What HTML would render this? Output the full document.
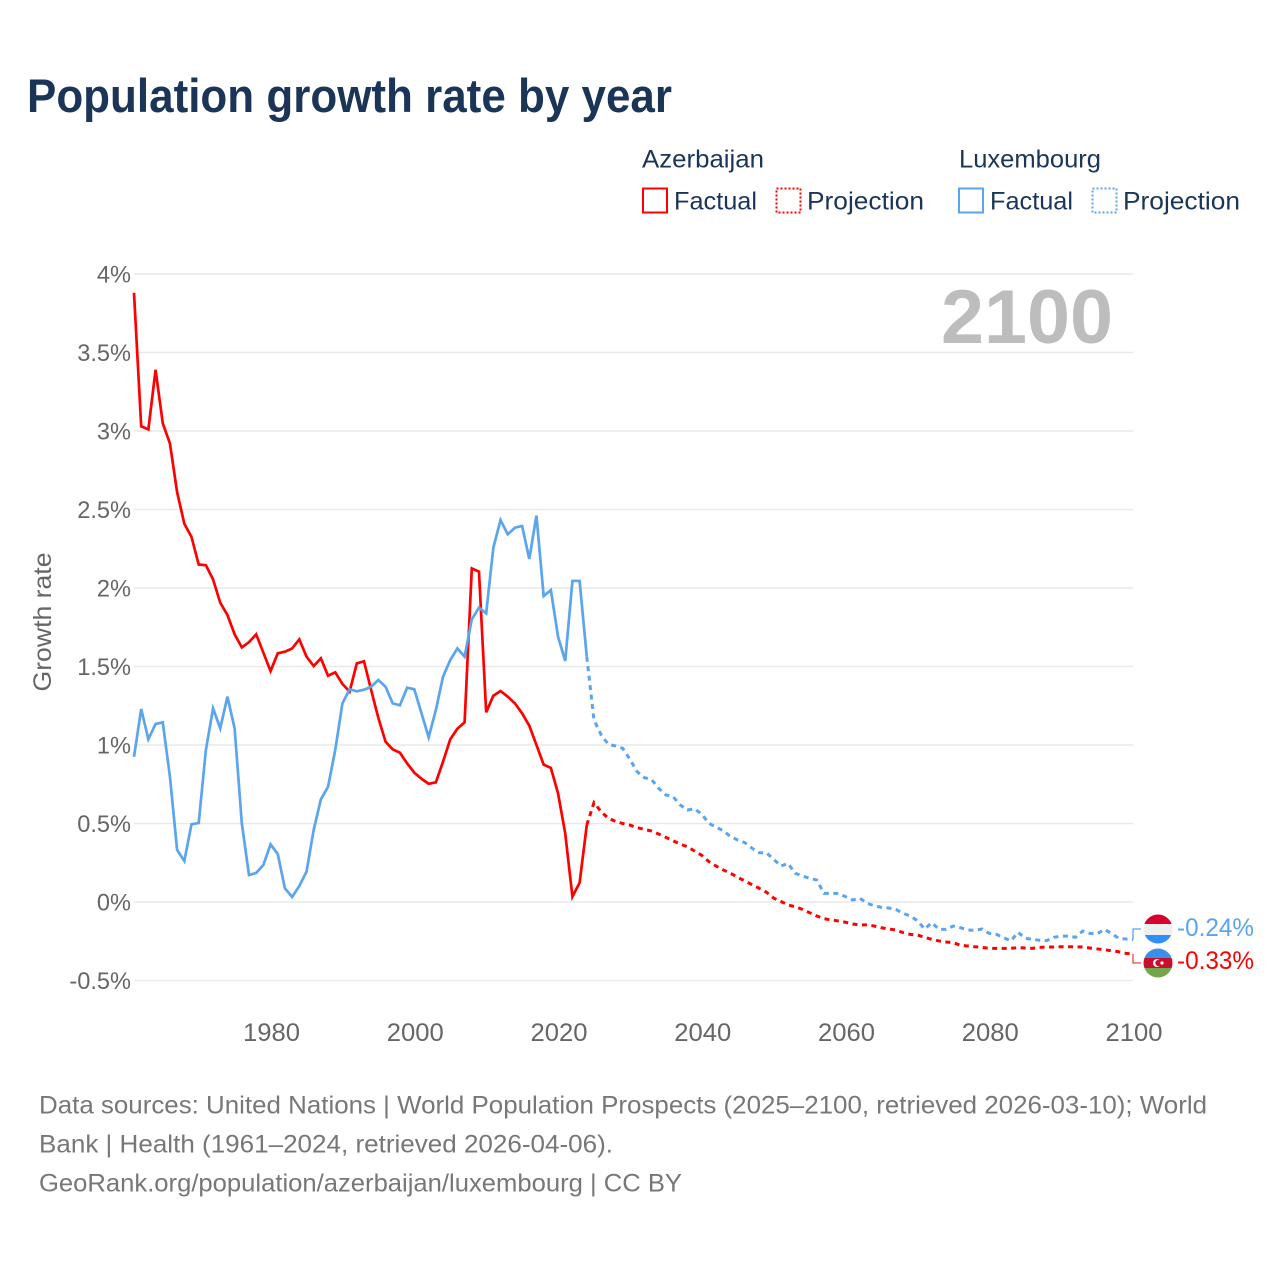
<!DOCTYPE html>
<html lang="en">
<head>
<meta charset="utf-8">
<title>Population growth rate by year</title>
<style>
html,body{margin:0;padding:0;background:#fff;}
svg{display:block;font-family:"Liberation Sans",sans-serif;}
</style>
</head>
<body>
<svg id="chart" width="1280" height="1280" viewBox="0 0 1280 1280" xmlns="http://www.w3.org/2000/svg">
  <defs>
    <clipPath id="clip-nl"><circle cx="1158" cy="929" r="14.5"/></clipPath>
    <clipPath id="clip-az"><circle cx="1158" cy="963" r="14.5"/></clipPath>
  </defs>
  <rect width="1280" height="1280" fill="#fff"/>
  <text x="27" y="112" font-size="47" font-weight="700" fill="#1a3557" textLength="645" lengthAdjust="spacingAndGlyphs">Population growth rate by year</text>

  <g font-size="25" fill="#1a3557">
    <text x="642" y="167.5" textLength="122" lengthAdjust="spacingAndGlyphs">Azerbaijan</text>
    <text x="959" y="167.5" textLength="142" lengthAdjust="spacingAndGlyphs">Luxembourg</text>
    <rect x="643" y="188.5" width="24" height="24" fill="none" stroke="#ff0000" stroke-width="2"/>
    <text x="674" y="209.5" textLength="83" lengthAdjust="spacingAndGlyphs">Factual</text>
    <rect x="776.5" y="188.5" width="24" height="24" fill="none" stroke="#ff0000" stroke-width="2" stroke-dasharray="2 2"/>
    <text x="807" y="209.5" textLength="117" lengthAdjust="spacingAndGlyphs">Projection</text>
    <rect x="959" y="188.5" width="24" height="24" fill="none" stroke="#5ba4ee" stroke-width="2"/>
    <text x="990" y="209.5" textLength="83" lengthAdjust="spacingAndGlyphs">Factual</text>
    <rect x="1092.5" y="188.5" width="24" height="24" fill="none" stroke="#5ba4ee" stroke-width="2" stroke-dasharray="2 2"/>
    <text x="1123" y="209.5" textLength="117" lengthAdjust="spacingAndGlyphs">Projection</text>
  </g>

  <g id="grid"></g>
  <g id="y-ticks"></g>
  <g id="x-ticks"></g>

  <text transform="translate(51 622) rotate(-90)" text-anchor="middle" font-size="25" fill="#666" textLength="139" lengthAdjust="spacingAndGlyphs">Growth rate</text>
  <text x="941" y="343" font-size="76" font-weight="700" fill="#bdbdbd" textLength="172" lengthAdjust="spacingAndGlyphs">2100</text>

  <g id="series"></g>

  <g clip-path="url(#clip-nl)">
    <rect x="1143" y="914" width="30" height="10" fill="#d8002c"/>
    <rect x="1143" y="924" width="30" height="11" fill="#efeff1"/>
    <rect x="1143" y="935" width="30" height="10" fill="#2f8ffb"/>
  </g>
  <g clip-path="url(#clip-az)">
    <rect x="1143" y="948" width="30" height="10" fill="#3a8fe8"/>
    <rect x="1143" y="958" width="30" height="10" fill="#c8102e"/>
    <rect x="1143" y="968" width="30" height="11" fill="#72a64a"/>
    <circle cx="1157" cy="963" r="4" fill="#fff"/>
    <circle cx="1158.5" cy="963" r="3.2" fill="#c8102e"/>
    <circle cx="1162" cy="963" r="1.6" fill="#fff"/>
  </g>
  <text id="label-lux" x="1177" y="936" font-size="25" fill="#5ba4ee" textLength="77" lengthAdjust="spacingAndGlyphs"></text>
  <text id="label-az" x="1177" y="969" font-size="25" fill="#ff0000" textLength="77" lengthAdjust="spacingAndGlyphs"></text>

  <g font-size="25" fill="#777">
    <text x="39" y="1113.5" textLength="1168" lengthAdjust="spacingAndGlyphs">Data sources: United Nations | World Population Prospects (2025–2100, retrieved 2026-03-10); World</text>
    <text x="39" y="1152.5" textLength="574" lengthAdjust="spacingAndGlyphs">Bank | Health (1961–2024, retrieved 2026-04-06).</text>
    <text x="39" y="1191.5" textLength="643" lengthAdjust="spacingAndGlyphs">GeoRank.org/population/azerbaijan/luxembourg | CC BY</text>
  </g>
</svg>
<script>
var yTickValues = [4, 3.5, 3, 2.5, 2, 1.5, 1, 0.5, 0, -0.5];
var yTickLabels = ["4%", "3.5%", "3%", "2.5%", "2%", "1.5%", "1%", "0.5%", "0%", "-0.5%"];
var xTickYears = [1980, 2000, 2020, 2040, 2060, 2080, 2100];
var factualStartYear = 1961;
var projectionStartYear = 2024;

var azerbaijanFactual = [
  3.88,3.03,3.01,3.39,3.05,2.92,2.61,2.41,2.325,2.15,
  2.145,2.055,1.906,1.828,1.705,1.622,1.655,1.705,1.588,1.471,
  1.584,1.594,1.615,1.673,1.563,1.503,1.552,1.441,1.463,1.389,
  1.34,1.52,1.533,1.35,1.172,1.021,0.972,0.951,0.883,0.824,
  0.785,0.753,0.762,0.894,1.036,1.104,1.144,2.125,2.104,1.208,
  1.314,1.344,1.308,1.265,1.202,1.123,1.0,0.875,0.854,0.692,
  0.437,0.034,0.123,0.49
];
var azerbaijanProjection = [
  0.49,0.633,0.575,0.533,0.514,0.5,0.49,0.473,0.463,0.452,
  0.433,0.412,0.39,0.369,0.352,0.325,0.297,
  0.257,0.229,0.204,0.183,0.157,0.134,0.11,0.087,0.062,0.025,
  0.004,-0.019,-0.03,-0.047,-0.068,-0.089,-0.106,-0.115,-0.121,-0.129,
  -0.14,-0.146,-0.146,-0.153,-0.164,-0.172,-0.178,-0.195,-0.206,-0.21,
  -0.225,-0.238,-0.248,-0.255,-0.259,-0.276,-0.28,-0.285,-0.289,-0.295,
  -0.295,-0.295,-0.295,-0.291,-0.293,-0.295,-0.289,-0.287,-0.287,-0.285,
  -0.285,-0.285,-0.287,-0.293,-0.299,-0.304,-0.31,-0.317,-0.327,-0.33
];
var luxembourgFactual = [
  0.925,1.229,1.036,1.134,1.144,0.798,0.331,0.261,0.495,0.503,
  0.968,1.233,1.106,1.308,1.106,0.501,0.172,0.185,0.236,0.367,
  0.306,0.087,0.032,0.102,0.193,0.459,0.654,0.734,0.968,1.265,
  1.355,1.342,1.352,1.371,1.414,1.371,1.265,1.253,1.365,1.355,
  1.202,1.049,1.223,1.435,1.541,1.615,1.563,1.8,1.875,1.839,
  2.257,2.433,2.342,2.384,2.395,2.185,2.461,1.949,1.987,1.69,
  1.535,2.045,2.045,1.562
];
var luxembourgProjection = [
  1.562,1.159,1.064,1.004,0.994,0.979,0.909,0.83,0.792,0.781,
  0.724,0.682,0.671,0.618,0.586,0.594,0.559,
  0.501,0.476,0.454,0.416,0.395,0.378,0.342,0.314,0.314,0.272,
  0.229,0.246,0.183,0.166,0.151,0.14,0.055,0.055,0.055,0.034,
  0.013,0.024,-0.008,-0.024,-0.034,-0.038,-0.047,-0.072,-0.089,-0.119,
  -0.172,-0.132,-0.174,-0.174,-0.153,-0.164,-0.178,-0.18,-0.172,-0.2,
  -0.206,-0.227,-0.248,-0.193,-0.231,-0.238,-0.244,-0.246,-0.225,-0.217,
  -0.217,-0.225,-0.185,-0.2,-0.204,-0.174,-0.2,-0.231,-0.236,-0.24
];

var SVG_NS = "http://www.w3.org/2000/svg";
function xScale(year) { return 134 + (year - 1961) * (999 / 139); }
function yScale(value) { return 902 - value * 157; }
function seriesPath(values, startYear) {
  var d = "";
  for (var i = 0; i < values.length; i++) {
    d += (i ? "L" : "M") + xScale(startYear + i).toFixed(2) + " " + yScale(values[i]).toFixed(2);
  }
  return d;
}
function addLine(values, startYear, color, dashed, name) {
  var p = document.createElementNS(SVG_NS, "path");
  p.setAttribute("d", seriesPath(values, startYear));
  p.setAttribute("fill", "none");
  p.setAttribute("stroke", color);
  p.setAttribute("stroke-width", dashed ? "3" : "2.7");
  p.setAttribute("stroke-linejoin", "miter");
  if (dashed) p.setAttribute("stroke-dasharray", "5 4.5");
  
  
  document.getElementById("series").appendChild(p);
}

yTickValues.forEach(function (v, i) {
  var line = document.createElementNS(SVG_NS, "line");
  line.setAttribute("x1", 134);
  line.setAttribute("x2", 1133);
  line.setAttribute("y1", yScale(v));
  line.setAttribute("y2", yScale(v));
  line.setAttribute("stroke", "#e9e9e9");
  line.setAttribute("stroke-width", "1.5");
  
  
  document.getElementById("grid").appendChild(line);

  var t = document.createElementNS(SVG_NS, "text");
  t.setAttribute("x", 131);
  t.setAttribute("y", yScale(v) + 8.5);
  t.setAttribute("text-anchor", "end");
  t.setAttribute("font-size", "23.6");
  t.setAttribute("fill", "#666");
  
  
  t.textContent = yTickLabels[i];
  document.getElementById("y-ticks").appendChild(t);
});

xTickYears.forEach(function (year) {
  var t = document.createElementNS(SVG_NS, "text");
  t.setAttribute("x", xScale(year) + 1 - 28.5);
  t.setAttribute("y", 1041);
  t.setAttribute("font-size", "25");
  t.setAttribute("fill", "#666");
  t.setAttribute("textLength", "57");
  t.setAttribute("lengthAdjust", "spacingAndGlyphs");
  
  
  t.textContent = String(year);
  document.getElementById("x-ticks").appendChild(t);
});

addLine(azerbaijanFactual, factualStartYear, "#ff0000", false, "azerbaijan-factual-line");
addLine(luxembourgFactual, factualStartYear, "#5ba4ee", false, "luxembourg-factual-line");
addLine(azerbaijanProjection, projectionStartYear, "#ff0000", true, "azerbaijan-projection-line");
addLine(luxembourgProjection, projectionStartYear, "#5ba4ee", true, "luxembourg-projection-line");

function addConnector(value, labelY, color, name) {
  var p = document.createElementNS(SVG_NS, "path");
  p.setAttribute("d", "M1133 " + yScale(value).toFixed(2) + "V" + labelY + "H1141");
  p.setAttribute("fill", "none");
  p.setAttribute("stroke", color);
  p.setAttribute("stroke-width", "1.3");
  
  
  document.getElementById("series").appendChild(p);
}
var azLast = azerbaijanProjection[azerbaijanProjection.length - 1];
var luxLast = luxembourgProjection[luxembourgProjection.length - 1];
addConnector(luxLast, 929, "#5ba4ee", "luxembourg-label-connector");
addConnector(azLast, 963, "#ff4040", "azerbaijan-label-connector");
document.getElementById("label-lux").textContent = luxLast.toFixed(2) + "%";
document.getElementById("label-az").textContent = azLast.toFixed(2) + "%";
</script>
</body>
</html>
